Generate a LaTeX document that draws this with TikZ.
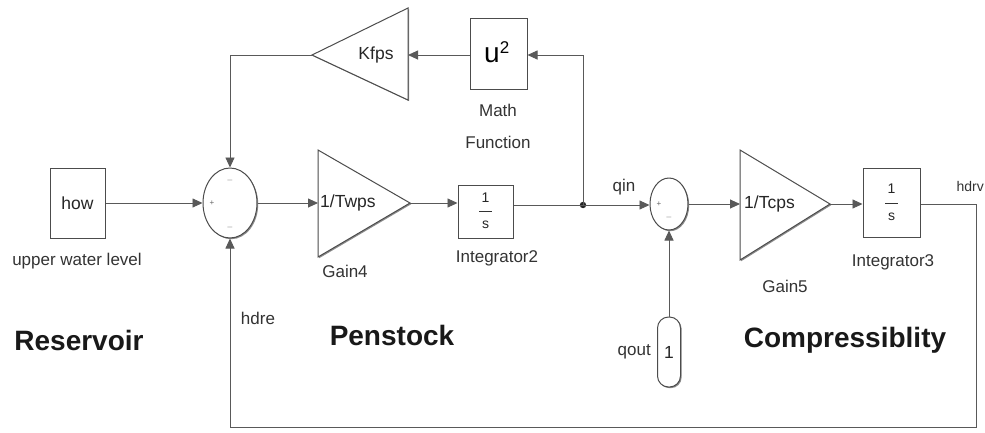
\documentclass[tikz,border=0pt]{standalone}
\usepackage{fontspec}
\setmainfont{Liberation Sans}
\usetikzlibrary{arrows.meta,shapes.geometric,shadows}
\begin{document}
\begin{tikzpicture}[x=1pt,y=-1pt,
  wire/.style={draw=black!65,line width=0.9pt},
  arr/.style={wire,-{Triangle[length=10pt,width=9pt]}},
  blk/.style={draw=black!70,line width=1pt,fill=white,inner sep=0pt,
     drop shadow={shadow xshift=1.2pt,shadow yshift=-1.2pt,fill=black!45,opacity=1}},
  lbl/.style={font=\fontsize{17}{18}\selectfont,text=black!80,inner sep=0pt},
  itx/.style={font=\fontsize{17.5}{18}\selectfont,text=black!85,inner sep=0pt},
  big/.style={font=\fontsize{28}{30}\selectfont\bfseries,text=black!90,inner sep=0pt},
  sgn/.style={font=\fontsize{8}{8}\selectfont,text=black!60,inner sep=0pt},
  frc/.style={inner sep=0pt,font=\fontsize{14}{14}\selectfont,text=black!85}]
\useasboundingbox (0,0) rectangle (985,432);
\fill[white] (0,0) rectangle (985,432);

% Reservoir
\node[blk,minimum width=55pt,minimum height=70pt] (how) at (77.5,203) {};
\node[itx] (howt) at (77.5,203) {how};
\node[lbl] (howl) at (77,261) {upper water level};

% Sum 1
\node[blk,ellipse,minimum width=54pt,minimum height=70pt] (sum1) at (230,203) {};
\node[sgn] at (230,180) {$-$};
\node[sgn] at (212,203) {+};
\node[sgn] at (230,227) {$-$};

% Gain4
\draw[blk] (318,150) -- (410,203) -- (318,257) -- cycle;
\coordinate (g4in) at (318,203);
\coordinate (g4out) at (410,203);
\node[itx,anchor=west] (g4t) at (320,203) {1/Twps};
\node[lbl] (g4l) at (345,271) {Gain4};

% Integrator2
\node[blk,minimum width=55pt,minimum height=53pt] (int2) at (485.5,211.5) {};
\node[frc] (i2a) at (485.5,198) {1};
\node[frc] (i2b) at (485.5,225) {s};
\draw[black!80,line width=0.6pt] (479,211) -- (492,211);
\node[lbl] (int2l) at (497,258) {Integrator2};

% Math function
\node[blk,minimum width=57pt,minimum height=71pt] (mf) at (498.5,53.5) {};
\node[inner sep=0pt] (mft) at (497,52) {\fontsize{28}{30}\selectfont u\textsuperscript{\fontsize{17}{18}\selectfont 2}};
\node[lbl] (mfl1) at (498,110) {Math};
\node[lbl] (mfl2) at (498,142) {Function};

% Kfps
\draw[blk] (408,8) -- (312,55) -- (408,100) -- cycle;
\coordinate (kin) at (408,55);
\coordinate (kout) at (312,55);
\node[itx] (kt) at (376,55) {Kfps};

% junction
\coordinate (jn) at (583,205);
\fill[black!85] (jn) circle (3.2pt);
\node[lbl] (qin) at (624,187) {qin};

% Sum 2
\node[blk,ellipse,minimum width=38pt,minimum height=52pt] (sum2) at (669,204) {};
\node[sgn] at (659,204) {+};
\node[sgn] at (669,217) {$-$};

% Gain5
\draw[blk] (740,150) -- (830,204) -- (740,260) -- cycle;
\coordinate (g5in) at (740,204);
\coordinate (g5out) at (830,204);
\node[itx,anchor=west] (g5t) at (744,204) {1/Tcps};
\node[lbl] (g5l) at (785,286) {Gain5};

% Integrator3
\node[blk,minimum width=57pt,minimum height=69pt] (int3) at (891.5,202.5) {};
\node[frc] (i3a) at (891.5,189) {1};
\node[frc] (i3b) at (891.5,217) {s};
\draw[black!80,line width=0.6pt] (885,203) -- (898,203);
\node[lbl] (int3l) at (893,262) {Integrator3};
\node[lbl,anchor=east,font=\fontsize{14}{15}\selectfont] (hdrv) at (984,186) {hdrv};
\coordinate (c1) at (976,204);
\coordinate (c2) at (976,427);
\coordinate (c3) at (230,427);

% qout
\node[blk,rounded corners=11pt,minimum width=23pt,minimum height=70pt] (qout) at (669,352) {};
\node[itx] (qoutt) at (669,352) {1};
\node[lbl,anchor=east] (qoutl) at (651,352) {qout};

% labels
\node[lbl] (hdre) at (258,318) {hdre};
\node[big] (res) at (79,340) {Reservoir};
\node[big] (pen) at (392,335) {Penstock};
\node[big] (comp) at (845,340) {Compressiblity};

% wires
\draw[arr] (how.east) -- (sum1.west);
\draw[arr] (sum1.east) -- (g4in);
\draw[arr] (g4out) -- (int2.west |- g4out);
\draw[wire] (int2.east |- jn) -- (jn);
\draw[arr] (jn) -- (sum2.west |- jn);
\draw[arr] (jn) |- (mf.east |- kin);
\draw[arr] (mf.west |- kin) -- (kin);
\draw[arr] (kout) -| (sum1.north);
\draw[arr] (sum2.east) -- (g5in);
\draw[arr] (g5out) -- (int3.west |- g5out);
\draw[wire] (int3.east |- c1) -- (c1) -- (c2) -- (c3);
\draw[arr] (c3) -- (sum1.south);
\draw[arr] (qout.north) -- (sum2.south);
\end{tikzpicture}
\end{document}
